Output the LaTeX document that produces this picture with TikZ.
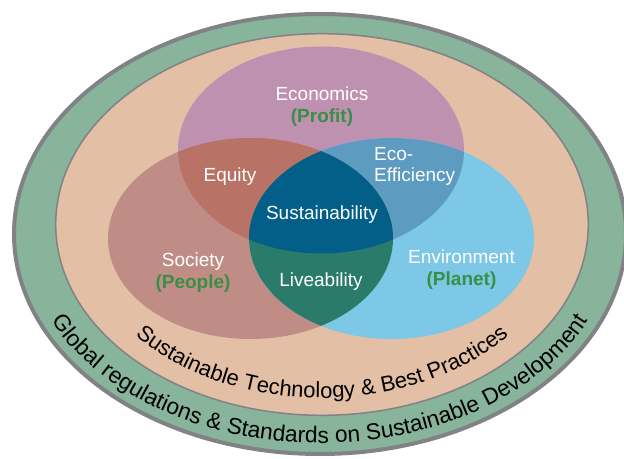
\documentclass[tikz,border=0pt]{standalone}
\usepackage{fontspec}
\setmainfont{Liberation Sans}
\usetikzlibrary{decorations.text}
\definecolor{ringgreen}{HTML}{87B49B}
\definecolor{ringgrey}{HTML}{818286}
\definecolor{peach}{HTML}{E3BFA5}
\definecolor{purp}{HTML}{BF91B1}
\definecolor{soc}{HTML}{C08C86}
\definecolor{envc}{HTML}{7CC8E6}
\definecolor{equityc}{HTML}{B87266}
\definecolor{ecoc}{HTML}{5E9BC0}
\definecolor{sustc}{HTML}{035F88}
\definecolor{livec}{HTML}{2B7B6A}
\definecolor{subgreen}{HTML}{3B8E45}
\def\Etop{(321,308) ellipse [x radius=143pt, y radius=103.5pt]}
\def\Eleft{(250.5,219.5) ellipse [x radius=142.5pt, y radius=100.5pt]}
\def\Eright{(391.5,219.5) ellipse [x radius=142.5pt, y radius=100.5pt]}
\begin{document}
\begin{tikzpicture}[x=1pt,y=1pt,
  lbl/.style={text=white, font=\fontsize{19}{19}\selectfont, inner sep=0pt, anchor=base},
  sub/.style={text=subgreen, font=\bfseries\fontsize{19}{19}\selectfont, inner sep=0pt, anchor=base}]
\useasboundingbox (0,0) rectangle (624,458);
\fill[white] (0,0) rectangle (624,458);
% rings
\draw[line width=4pt, draw=ringgrey, fill=ringgreen] (320,224) ellipse [x radius=306pt, y radius=220pt];
\draw[line width=1.5pt, draw=ringgrey, fill=peach] (322,233.5) ellipse [x radius=266.3pt, y radius=190.8pt];
% venn
\fill[purp] \Etop;
\fill[soc] \Eleft;
\fill[envc] \Eright;
\begin{scope}\clip \Etop; \fill[equityc] \Eleft; \fill[ecoc] \Eright; \end{scope}
\begin{scope}\clip \Eleft; \fill[livec] \Eright; \end{scope}
\begin{scope}\clip \Etop; \clip \Eleft; \fill[sustc] \Eright; \end{scope}
% labels
\node[lbl] (econ) at (322,357) {Economics};
\node[sub] (profit) at (322,335) {(Profit)};
\node[lbl] (equity) at (230,276) {Equity};
\node[lbl, anchor=base west] (eco) at (374,297) {Eco-};
\node[lbl, anchor=base west] (effic) at (374,276) {Efficiency};
\node[lbl] (sustain) at (322,238) {Sustainability};
\node[lbl] (society) at (193,191) {Society};
\node[sub] (people) at (193,169) {(People)};
\node[lbl] (live) at (321,171) {Liveability};
\node[lbl] (environ) at (461.5,194) {Environment};
\node[sub] (planet) at (461.5,172) {(Planet)};
% curved texts
\path[decorate, decoration={text along path, text align=center,
  text={|\fontsize{22}{22}\selectfont|Sustainable Technology {\&} Best Practices}}]
  (322,234) ++(200:243pt and 174pt) arc[start angle=200, end angle=340, x radius=243pt, y radius=174pt];
\path[decorate, decoration={text along path, text align=center,
  text={|\fontsize{22.8}{22.8}\selectfont|Global regulations {\&} Standards on Sustainable Development}}]
  (320,224) ++(196:295pt and 209pt) arc[start angle=196, end angle=344, x radius=295pt, y radius=209pt];
\end{tikzpicture}
\end{document}
